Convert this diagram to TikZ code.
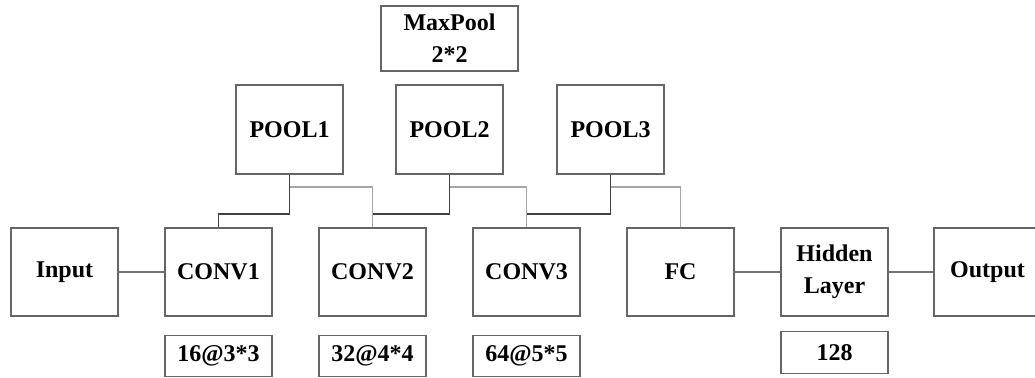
\documentclass[tikz,border=0pt]{standalone}
\usepackage{fontspec}
\setmainfont{Liberation Serif}
\begin{document}
\begin{tikzpicture}[x=0.75pt,y=-0.75pt,
  box/.style={draw=black!60,line width=0.8pt,inner sep=0pt,align=center,
    font=\fontsize{18}{24}\selectfont\bfseries},
  layer/.style={box,minimum width=80.25pt,minimum height=66pt},
  pool/.style={box,minimum width=80.25pt,minimum height=66.75pt},
  param/.style={box,minimum width=80.25pt,minimum height=31pt},
  link/.style={line width=0.8pt,draw=black!55},
  dk/.style={line width=0.8pt,draw=black!75},
  lt/.style={line width=0.8pt,draw=black!35}]
\clip (0,0) rectangle (1035,378);
\useasboundingbox (0,0) rectangle (1035,378);

% main chain
\node[layer] (in)  at (64.5,272)  {Input};
\node[layer] (c1)  at (218.5,272) {CONV1};
\node[layer] (c2)  at (372.5,272) {CONV2};
\node[layer] (c3)  at (526.5,272) {CONV3};
\node[layer] (fc)  at (680.5,272) {FC};
\node[layer] (hid) at (834.5,272) {Hidden\\Layer};
\node[layer] (out) at (987.5,272) {Output};

% pooling layers
\node[pool] (p1) at (289.5,129.5) {POOL1};
\node[pool] (p2) at (449.5,129.5) {POOL2};
\node[pool] (p3) at (610.5,129.5) {POOL3};
\node[box,minimum width=102.75pt,minimum height=48.75pt] (mp) at (449.5,38.5) {MaxPool\\2*2};

% kernel / unit counts
\node[param] (k1) at (218.5,356)   {16@3*3};
\node[param] (k2) at (372.5,356)   {32@4*4};
\node[param] (k3) at (526.5,356)   {64@5*5};
\node[param] (k4) at (834.5,352.5) {128};

% horizontal links
\draw[link] (in.east) -- (c1.west);
\draw[link] (fc.east) -- (hid.west);
\draw[link] (hid.east) -- (out.west);

% conv -> pool links
\draw[dk] (p1.south) -- (p1.south |- 0,214) -| (c1.north);
\draw[dk] (p2.south) -- (p2.south |- 0,214) -| (c2.north);
\draw[dk] (p3.south) -- (p3.south |- 0,214) -| (c3.north);

% pool -> next layer links
\draw[lt] (p1.south |- 0,187) -| (c2.north);
\draw[lt] (p2.south |- 0,187) -| (c3.north);
\draw[lt] (p3.south |- 0,187) -| (fc.north);
\end{tikzpicture}
\end{document}
